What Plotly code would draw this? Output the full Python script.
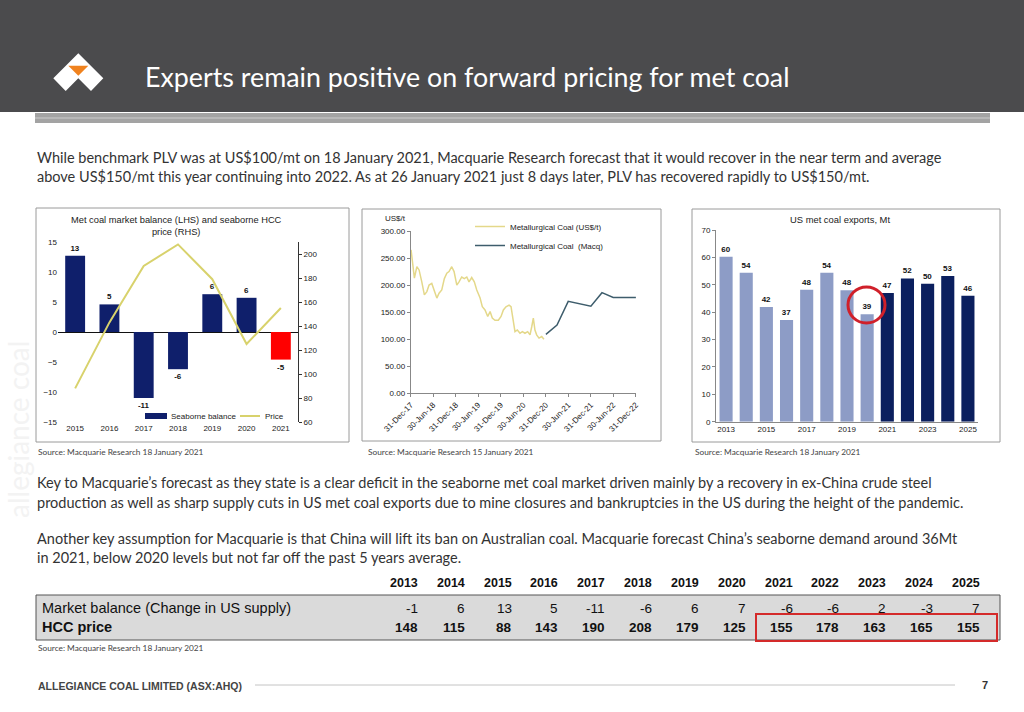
import plotly.graph_objects as go

# ---------------- data ----------------
c1_years = [2015, 2016, 2017, 2018, 2019, 2020, 2021]
c1_balance = [12.7, 4.6, -11.0, -6.2, 6.3, 5.7, -4.6]
c1_balance_labels = ["13", "5", "-11", "-6", "6", "6", "-5"]
c1_price = [88, 143, 190, 208, 179, 125, 155]
c1_bar_colors = ["#0f1f6b"] * 6 + ["#ff0000"]
c1_legend_names = ["Seaborne balance", "Price"]

c2_hist_dates = ["2018-01-02", "2018-01-21", "2018-01-29", "2018-02-18", "2018-03-08", "2018-03-30",
                 "2018-04-20", "2018-05-10", "2018-05-28", "2018-06-19", "2018-07-10", "2018-07-30",
                 "2018-08-17", "2018-09-08", "2018-09-29", "2018-10-19", "2018-11-06", "2018-11-28",
                 "2018-12-17", "2019-01-08", "2019-01-26", "2019-02-17", "2019-03-10", "2019-03-30",
                 "2019-04-17", "2019-05-09", "2019-05-30", "2019-06-19", "2019-07-16", "2019-08-03",
                 "2019-08-25", "2019-09-16", "2019-10-05", "2019-10-23", "2019-11-14", "2019-12-11",
                 "2020-01-02", "2020-01-21", "2020-02-11", "2020-03-07", "2020-03-23", "2020-04-06",
                 "2020-04-24", "2020-05-13", "2020-06-04", "2020-06-23", "2020-07-14", "2020-08-05",
                 "2020-08-24", "2020-09-07", "2020-09-20", "2020-10-03", "2020-10-17", "2020-11-05",
                 "2020-11-27", "2020-12-15"]
c2_hist_values = [265, 234, 213, 234, 228, 206, 182, 188, 200, 203, 191, 176, 185, 191, 212, 222, 225, 234,
                  225, 200, 206, 215, 212, 215, 206, 214, 206, 191, 176, 160, 154, 142, 151, 139, 135, 135,
                  142, 154, 160, 163, 160, 139, 114, 117, 111, 114, 111, 114, 108, 123, 139, 117, 108, 102,
                  105, 100]
c2_fc_dates = ["2020-12-31", "2021-03-31", "2021-06-30", "2021-12-31", "2022-03-31", "2022-06-30", "2022-12-31"]
c2_fc_values = [109, 126, 170, 161, 186, 177, 177]
c2_tick_dates = ["2017-12-31", "2018-06-30", "2018-12-31", "2019-06-30", "2019-12-31", "2020-06-30",
                 "2020-12-31", "2021-06-30", "2021-12-31", "2022-06-30", "2022-12-31"]
c2_tick_labels = ["31-Dec-17", "30-Jun-18", "31-Dec-18", "30-Jun-19", "31-Dec-19", "30-Jun-20",
                  "31-Dec-20", "30-Jun-21", "31-Dec-21", "30-Jun-22", "31-Dec-22"]

c3_years = [2013, 2014, 2015, 2016, 2017, 2018, 2019, 2020, 2021, 2022, 2023, 2024, 2025]
c3_exports = [60.2, 54.4, 41.9, 37.1, 48.2, 54.4, 48.0, 39.2, 47.0, 52.3, 50.4, 53.2, 46.0]
c3_labels = ["60", "54", "42", "37", "48", "54", "48", "39", "47", "52", "50", "53", "46"]
c3_colors = ["#8d9cc6"] * 8 + ["#0b1f5e"] * 5

tbl_years = [2013, 2014, 2015, 2016, 2017, 2018, 2019, 2020, 2021, 2022, 2023, 2024, 2025]
tbl_balance = [-1, 6, 13, 5, -11, -6, 6, 7, -6, -6, 2, -3, 7]
tbl_price = [148, 115, 88, 143, 190, 208, 179, 125, 155, 178, 163, 165, 155]


def px(x):
    return x / 1024.0


def py(y):
    return 1 - y / 712.0


AX = "Liberation Sans, Arial, sans-serif"
BODY = "Lato, Open Sans, sans-serif"
NARROW = "Liberation Sans Narrow, Arial Narrow, Liberation Sans, sans-serif"
NAVY1 = "#0f1f6b"
PRICE_COL = "#d8d26c"

fig = go.Figure()

# Chart 1
fig.add_trace(go.Bar(x=c1_years, y=c1_balance, text=c1_balance_labels, textposition="outside",
                     texttemplate="<b>%{text}</b>",
                     marker=dict(color=c1_bar_colors, line=dict(width=0)), width=0.58,
                     textfont=dict(family=AX, size=8, color="#111"), cliponaxis=False,
                     name=c1_legend_names[0], showlegend=False, xaxis="x", yaxis="y"))
fig.add_trace(go.Scatter(x=c1_years, y=c1_price, mode="lines", line=dict(color=PRICE_COL, width=2),
                         name=c1_legend_names[1], showlegend=False, xaxis="x", yaxis="y2"))

# Chart 2
fig.add_trace(go.Scatter(x=c2_hist_dates, y=c2_hist_values, mode="lines",
                         line=dict(color="#e4d88a", width=1.5),
                         name="Metallurgical Coal (US$/t)", xaxis="x3", yaxis="y3", legend="legend2"))
fig.add_trace(go.Scatter(x=c2_fc_dates, y=c2_fc_values, mode="lines",
                         line=dict(color="#3e5d6c", width=1.5),
                         name="Metallurgical Coal  (Macq)", xaxis="x3", yaxis="y3", legend="legend2"))

# Chart 3
fig.add_trace(go.Bar(x=c3_years, y=c3_exports, text=c3_labels, textposition="outside",
                     texttemplate="<b>%{text}</b>",
                     marker=dict(color=c3_colors, line=dict(width=0)), width=0.65,
                     textfont=dict(family=AX, size=8, color="#111"), cliponaxis=False,
                     showlegend=False, xaxis="x4", yaxis="y4"))

tf = dict(family=AX, size=8, color="#222")

fig.update_layout(
    width=1024, height=712, margin=dict(l=0, r=0, t=0, b=0, pad=0, autoexpand=False),
    paper_bgcolor="white", plot_bgcolor="rgba(0,0,0,0)",
    xaxis=dict(domain=[px(58), px(298)], range=[2014.5, 2021.5], tickvals=c1_years,
               showgrid=False, zeroline=False, showline=False, ticks="", tickfont=tf, anchor="y"),
    yaxis=dict(domain=[py(422), py(242)], range=[-15, 15], dtick=5, showgrid=False,
               zeroline=True, zerolinecolor="#111", zerolinewidth=1, showline=False,
               tickfont=tf, anchor="x"),
    yaxis2=dict(overlaying="y", side="right", range=[60, 210], tickvals=[60, 80, 100, 120, 140, 160, 180, 200],
                showgrid=False, zeroline=False, showline=True, linecolor="#333", linewidth=1,
                ticks="outside", ticklen=3, tickcolor="#333", tickfont=tf, anchor="x"),
    xaxis3=dict(type="date", domain=[px(410.7), px(636)], range=["2017-12-30", "2023-01-01"],
                tickvals=c2_tick_dates, ticktext=c2_tick_labels, tickangle=-45,
                showgrid=False, zeroline=False, showline=True, linecolor="#888", ticks="outside",
                ticklen=3, tickcolor="#888", tickfont=tf, anchor="y3"),
    yaxis3=dict(domain=[py(393.3), py(231)], range=[0, 300], dtick=50, tickformat=".2f",
                showgrid=False, zeroline=False, showline=True, linecolor="#888", ticks="outside",
                ticklen=3, tickcolor="#888", tickfont=tf, anchor="x3"),
    xaxis4=dict(domain=[px(716), px(978)], range=[2012.5, 2025.5], tickvals=[2013, 2015, 2017, 2019, 2021, 2023, 2025],
                showgrid=False, zeroline=False, showline=True, linecolor="#888", ticks="",
                tickfont=tf, anchor="y4"),
    yaxis4=dict(domain=[py(421.7), py(230)], range=[0, 70], dtick=10, showgrid=False, zeroline=False,
                showline=True, linecolor="#888", ticks="outside", ticklen=3, tickcolor="#888",
                tickfont=tf, anchor="x4"),
    legend2=dict(orientation="v", x=px(470), y=py(212), xanchor="left", yanchor="top",
                 font=dict(family=AX, size=8, color="#222"), bgcolor="rgba(0,0,0,0)",
                 itemwidth=30, tracegroupgap=0),
)

shapes = []
# header band
shapes.append(dict(type="rect", xref="paper", yref="paper", x0=0, x1=1, y0=py(112), y1=1,
                   fillcolor="#4b4b4d", line=dict(width=0), layer="below"))
shapes.append(dict(type="rect", xref="paper", yref="paper", x0=px(35), x1=px(990), y0=py(123), y1=py(113),
                   fillcolor="#a3a3a3", line=dict(width=0), layer="below"))
shapes.append(dict(type="rect", xref="paper", yref="paper", x0=px(35), x1=px(990), y0=py(119), y1=py(117),
                   fillcolor="#b8b8b8", line=dict(width=0), layer="below"))


def path(pts):
    return "M " + " L ".join(f"{px(a):.5f},{py(b):.5f}" for a, b in pts) + " Z"


# logo
shapes.append(dict(type="path", xref="paper", yref="paper",
                   path=path([(78.3, 53.3), (103.3, 78.3), (91, 91), (78.3, 78.3), (65.7, 91), (53.3, 78.3)]),
                   fillcolor="white", line=dict(width=0)))
shapes.append(dict(type="path", xref="paper", yref="paper",
                   path=path([(68.3, 65.7), (88.3, 65.7), (78.3, 75.7)]),
                   fillcolor="#f0821e", line=dict(width=0)))
# chart borders
for x0, x1, y0, y1 in [(36, 349, 208, 442), (362, 661, 209, 441), (692, 1000, 209, 442)]:
    shapes.append(dict(type="rect", xref="paper", yref="paper", x0=px(x0), x1=px(x1), y0=py(y1), y1=py(y0),
                       line=dict(color="#9a9a9a", width=1), fillcolor="rgba(0,0,0,0)", layer="below"))
# chart 1 legend swatches
shapes.append(dict(type="rect", xref="paper", yref="paper", x0=px(145), x1=px(167), y0=py(419), y1=py(413),
                   fillcolor=NAVY1, line=dict(width=0)))
shapes.append(dict(type="line", xref="paper", yref="paper", x0=px(240), x1=px(260), y0=py(416), y1=py(416),
                   line=dict(color=PRICE_COL, width=2)))
# red circle chart 3
shapes.append(dict(type="circle", xref="paper", yref="paper", x0=px(848), x1=px(885), y0=py(323), y1=py(287),
                   line=dict(color="#d0202a", width=3)))
# table box
shapes.append(dict(type="rect", xref="paper", yref="paper", x0=px(36), x1=px(1000), y0=py(640), y1=py(595),
                   fillcolor="#dadada", line=dict(color="#555", width=1), layer="below"))
shapes.append(dict(type="rect", xref="paper", yref="paper", x0=px(756), x1=px(997), y0=py(641), y1=py(614),
                   fillcolor="rgba(0,0,0,0)", line=dict(color="#d42a2a", width=2)))
# footer line
shapes.append(dict(type="line", xref="paper", yref="paper", x0=px(255), x1=px(955), y0=py(685), y1=py(685),
                   line=dict(color="#c4c4c4", width=1)))
fig.update_layout(shapes=shapes)

ann = []


def text(x, y, s, size=13, color="#333", family=BODY, xanchor="left", yanchor="middle", **kw):
    ann.append(dict(x=px(x), y=py(y), xref="paper", yref="paper", text=s, showarrow=False,
                    xanchor=xanchor, yanchor=yanchor, font=dict(family=family, size=size, color=color), **kw))


# watermark
text(18, 430, "allegiance coal", size=28, color="#f3f3f3", family=BODY, xanchor="center", textangle=-90)

text(143, 77, "Experts remain positive on forward pricing for met coal", size=26.8, color="white")
BS = 14.5
text(35, 157, "While benchmark PLV was at US$100/mt on 18 January 2021, Macquarie Research forecast that it would recover in the near term and average", size=BS)
text(35, 177, "above US$150/mt this year continuing into 2022. As at 26 January 2021 just 8 days later, PLV has recovered rapidly to US$150/mt.", size=BS)
text(35, 482, "Key to Macquarie’s forecast as they state is a clear deficit in the seaborne met coal market driven mainly by a recovery in ex-China crude steel", size=BS)
text(35, 502, "production as well as sharp supply cuts in US met coal exports due to mine closures and bankruptcies in the US during the height of the pandemic.", size=BS)
text(35, 538, "Another key assumption for Macquarie is that China will lift its ban on Australian coal. Macquarie forecast China’s seaborne demand around 36Mt", size=BS)
text(35, 557, "in 2021, below 2020 levels but not far off the past 5 years average.", size=BS)

# chart titles
text(176, 226, "Met coal market balance (LHS) and seaborne HCC<br>price (RHS)", size=9.3, color="#222", family=AX,
     xanchor="center")
text(383, 218, "US$/t", size=8, color="#222", family=AX)
text(840, 220, "US met coal exports, Mt", size=9.4, color="#222", family=AX, xanchor="center")

# chart 1 legend labels
text(169, 416, c1_legend_names[0], size=8, color="#222", family=AX)
text(263, 416, c1_legend_names[1], size=8, color="#222", family=AX)

# sources
SS = 8.3
text(36, 452, "Source: Macquarie Research 18 January 2021", size=SS, color="#444")
text(366, 452, "Source: Macquarie Research 15 January 2021", size=SS, color="#444")
text(693, 452, "Source: Macquarie Research 18 January 2021", size=SS, color="#444")
text(36, 648, "Source: Macquarie Research 18 January 2021", size=SS, color="#444")

# table
for i, yr in enumerate(tbl_years):
    xr = 420 + i * 46.83
    text(xr, 583, f"<b>{yr}</b>", size=12.5, color="#111", family=NARROW, xanchor="right")
    text(xr, 608, f"{tbl_balance[i]}", size=13.5, color="#111", family=NARROW, xanchor="right")
    text(xr, 627, f"<b>{tbl_price[i]}</b>", size=13.5, color="#111", family=NARROW, xanchor="right")
text(40, 608, "Market balance (Change in US supply)", size=14.5, color="#111", family=NARROW)
text(40, 627, "<b>HCC price</b>", size=14.5, color="#111", family=NARROW)

# footer
text(36, 686, "<b>ALLEGIANCE COAL LIMITED (ASX:AHQ)</b>", size=10.5, color="#444", family=NARROW)
text(985, 685, "<b>7</b>", size=11, color="#333", family=NARROW, xanchor="center")

fig.update_layout(annotations=ann)
fig.write_html("out.html", config={"displayModeBar": False},
               post_script="document.body.style.margin='0px';document.body.style.overflow='hidden';")
